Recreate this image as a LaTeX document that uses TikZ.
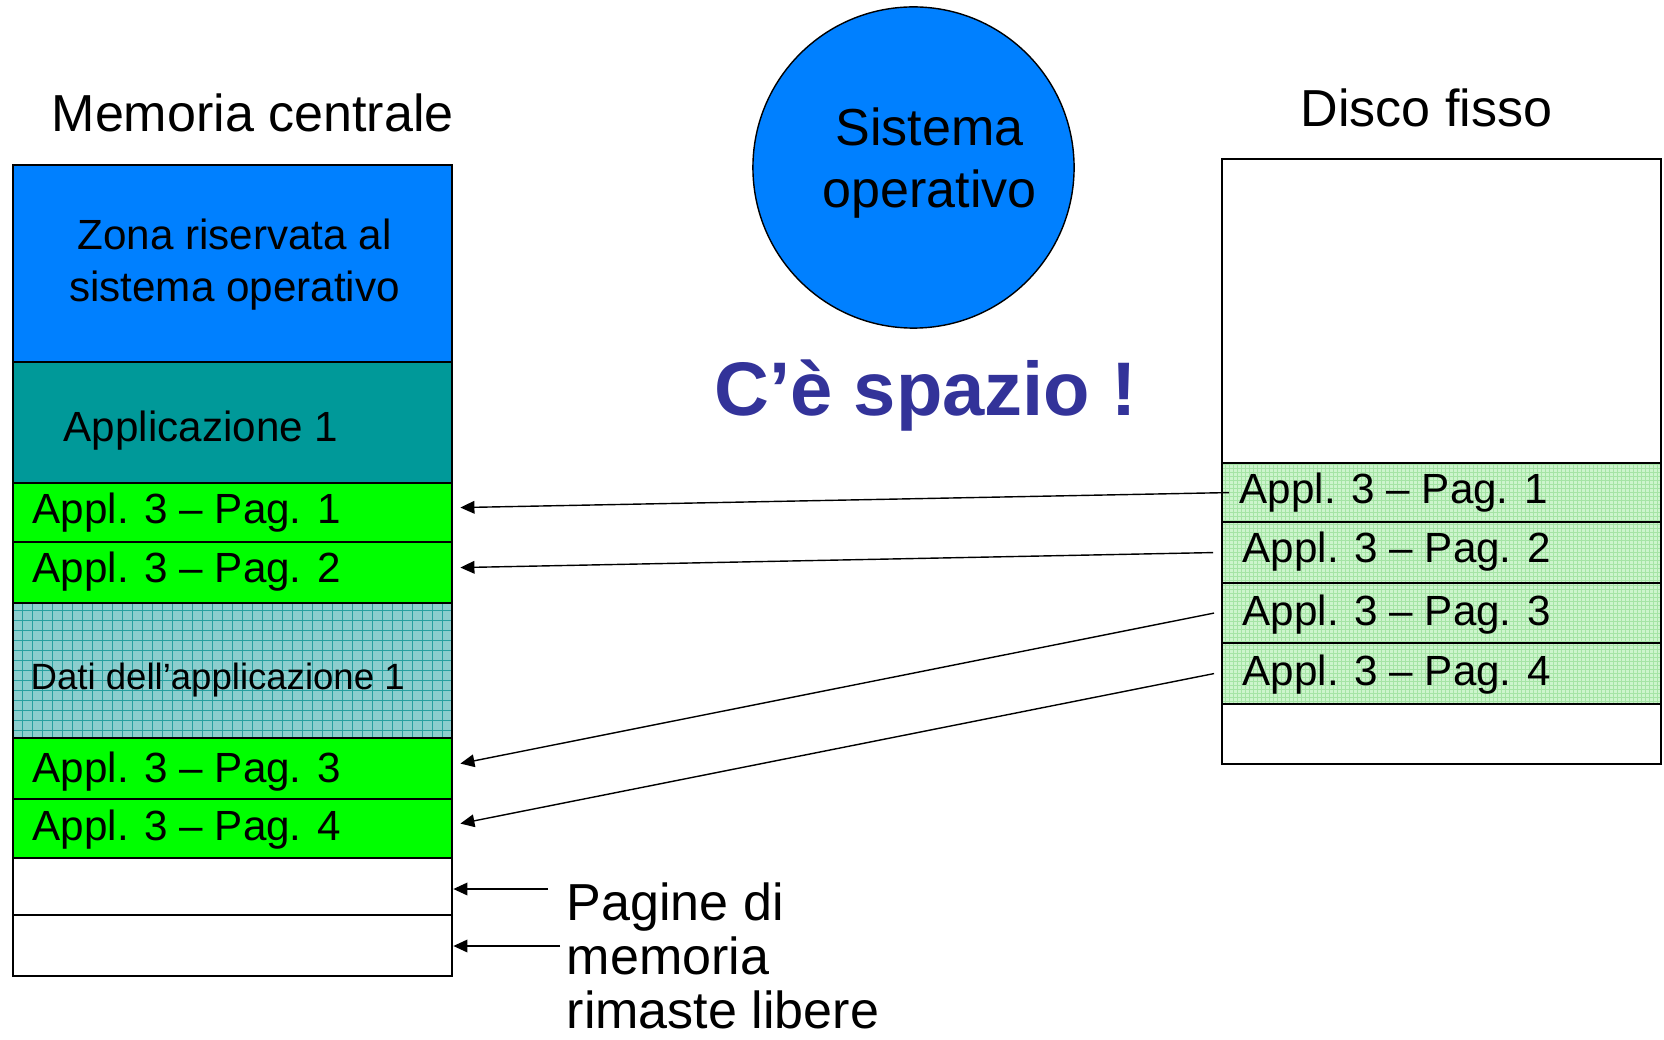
\documentclass[tikz,border=0pt]{standalone}
\usepackage{fontspec}
\setmainfont{Liberation Sans}
\usetikzlibrary{arrows.meta,calc}

\definecolor{osblue}{RGB}{0,128,255}
\definecolor{appteal}{RGB}{0,153,153}
\definecolor{pagegreen}{RGB}{0,255,0}
\definecolor{datifill}{RGB}{140,206,206}
\definecolor{datigrid}{RGB}{40,160,160}
\definecolor{diskfill}{RGB}{205,245,205}
\definecolor{diskgrid}{RGB}{165,228,165}
\definecolor{spacetxt}{RGB}{51,51,153}

\tikzset{
  cell/.style={draw, line width=0.6pt, anchor=north west, minimum width=4.39cm, inner sep=0pt},
  gridded/.style 2 args={path picture={\draw[#1, line width=0.3pt, step=#2] (path picture bounding box.south west) grid (path picture bounding box.north east);}},
  big/.style={font=\fontsize{14.8}{16.2}\selectfont, inner sep=0pt},
  txt/.style={font=\fontsize{12}{14.8}\selectfont, inner sep=0pt, anchor=base west},
  arr/.style={-{Triangle[length=4pt,width=3.6pt]}, line width=0.4pt}
}

\begin{document}
\begin{tikzpicture}[x=0.01cm, y=-0.01cm]
  \useasboundingbox (0,0) rectangle (1664,1040);

  % memoria centrale
  \node[big, anchor=base west] (memtitle) at (51,132) {Memoria centrale};
  \node[cell, fill=osblue, minimum height=1.97cm] (sysz) at (12,164) {};
  \node[cell, fill=appteal, minimum height=1.21cm] (app1) at (12,361) {};
  \node[cell, fill=pagegreen, minimum height=0.59cm] (m1) at (12,482) {};
  \node[cell, fill=pagegreen, minimum height=0.61cm] (m2) at (12,541) {};
  \node[cell, fill=datifill, gridded={datigrid}{1mm}, minimum height=1.35cm] (dati) at (12,602) {};
  \node[cell, fill=pagegreen, minimum height=0.61cm] (m3) at (12,737) {};
  \node[cell, fill=pagegreen, minimum height=0.59cm] (m4) at (12,798) {};
  \node[cell, minimum height=0.57cm] (free1) at (12,857) {};
  \node[cell, minimum height=0.61cm] (free2) at (12,914) {};

  \node[txt, align=center, anchor=center] (syszt) at (234.5,265) {Zona riservata al\\sistema operativo};
  \node[txt] (app1t) at (63,442) {Applicazione 1};
  \node[txt] (m1t) at (32,523) {Appl. 3 – Pag. 1};
  \node[txt] (m2t) at (32,582) {Appl. 3 – Pag. 2};
  \node[txt, font=\fontsize{10.4}{12}\selectfont] (datit) at (30,689) {Dati dell’applicazione 1};
  \node[txt] (m3t) at (32,782) {Appl. 3 – Pag. 3};
  \node[txt] (m4t) at (32,840) {Appl. 3 – Pag. 4};

  % sistema operativo
  \node[circle, draw, line width=0.4pt, fill=osblue, minimum size=3.21cm, inner sep=0pt] (os) at (913.5,167.5) {};
  \node[big, align=center, font=\fontsize{14.8}{17.6}\selectfont] (ost) at (929.5,163) {Sistema\\operativo};
  \node[font=\bfseries\fontsize{21.6}{26}\selectfont, text=spacetxt, inner sep=0pt, anchor=base west] (spazio) at (714,416) {C’è spazio !};

  % disco fisso
  \node[big, anchor=base west] (disktitle) at (1300,127) {Disco fisso};
  \node[cell, minimum height=3.04cm] (dtop) at (1221,158) {};
  \node[cell, fill=diskfill, gridded={diskgrid}{0.4mm}, minimum height=0.59cm] (d1) at (1221,462) {};
  \node[cell, fill=diskfill, gridded={diskgrid}{0.4mm}, minimum height=0.61cm] (d2) at (1221,521) {};
  \node[cell, fill=diskfill, gridded={diskgrid}{0.4mm}, minimum height=0.60cm] (d3) at (1221,582) {};
  \node[cell, fill=diskfill, gridded={diskgrid}{0.4mm}, minimum height=0.61cm] (d4) at (1221,642) {};
  \node[cell, minimum height=0.60cm] (dbot) at (1221,703) {};

  \node[txt] (d1t) at (1239,503) {Appl. 3 – Pag. 1};
  \node[txt] (d2t) at (1242,562) {Appl. 3 – Pag. 2};
  \node[txt] (d3t) at (1242,625) {Appl. 3 – Pag. 3};
  \node[txt] (d4t) at (1242,685) {Appl. 3 – Pag. 4};

  % pagine caricate
  \draw[arr] ($(d1.west)+(8,0)$) -- ($(m1.east)+(7,-5)$);
  \draw[arr] ($(d2.west)+(-8,0)$) -- ($(m2.east)+(7,-5)$);
  \draw[arr] ($(d3.west)+(-7,0)$) -- ($(m3.east)+(7,-5)$);
  \draw[arr] ($(d4.west)+(-7,0)$) -- ($(m4.east)+(7,-5)$);

  % pagine libere
  \node[big, align=left, anchor=north west, font=\fontsize{14.8}{15.4}\selectfont] (lib) at (566,882) {Pagine di\\memoria\\rimaste libere};
  \coordinate (fa) at (548,889);
  \coordinate (fb) at (560,946);
  \draw[arr] (fa) -- (fa -| free1.east);
  \draw[arr] (fb) -- (fb -| free2.east);
\end{tikzpicture}
\end{document}
